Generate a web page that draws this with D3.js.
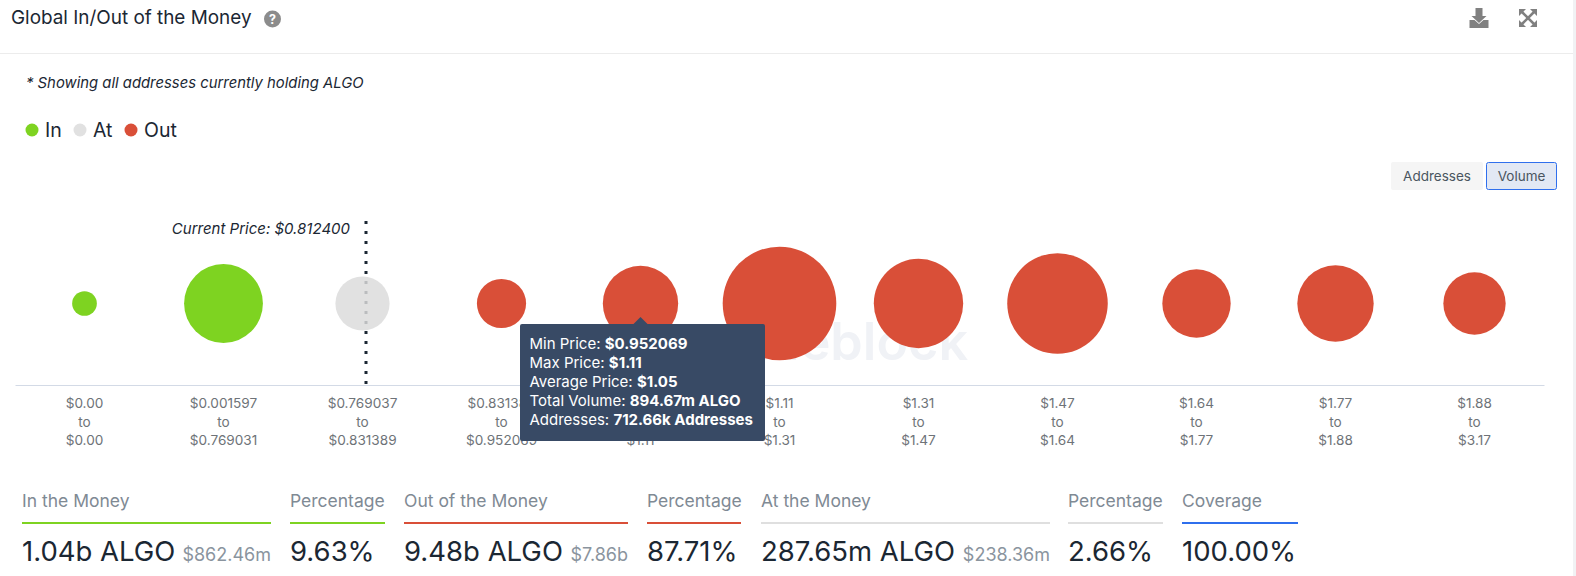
<!DOCTYPE html>
<html>
<head>
<meta charset="utf-8">
<script src="https://cdn.jsdelivr.net/npm/d3@7"></script>
<style>
  html, body { margin: 0; padding: 0; background: #fff; overflow: hidden; }
  text { font-family: Inter, "Noto Sans", sans-serif; }
</style>
</head>
<body>
<div id="chart"></div>
<script>
// Chart data
const minPrices = ["$0.00", "$0.001597", "$0.769037", "$0.831389", "$0.952069", "$1.11", "$1.31", "$1.47", "$1.64", "$1.77", "$1.88"];
const maxPrices = ["$0.00", "$0.769031", "$0.831389", "$0.952069", "$1.11", "$1.31", "$1.47", "$1.64", "$1.77", "$1.88", "$3.17"];
const volumes = [0.5, 1030, 287.65, 196, 894.67, 2970, 1504, 2110, 655, 933, 478]; // millions of ALGO
const statuses = ["In", "In", "At", "Out", "Out", "Out", "Out", "Out", "Out", "Out", "Out"];
const legendLabels = ["In", "At", "Out"];
const legendColors = ["#7ed321", "#e1e1e1", "#d94f38"];
const tooltipLabels = ["Min Price: ", "Max Price: ", "Average Price: ", "Total Volume: ", "Addresses: "];
const tooltipValues = ["$0.952069", "$1.11", "$1.05", "894.67m ALGO", "712.66k Addresses"];
const statTitles = ["In the Money", "Percentage", "Out of the Money", "Percentage", "At the Money", "Percentage", "Coverage"];
const statValues = ["1.04b ALGO", "9.63%", "9.48b ALGO", "87.71%", "287.65m ALGO", "2.66%", "100.00%"];
const statUsd = ["$862.46m", "", "$7.86b", "", "$238.36m", "", ""];
const statColors = ["#7ed321", "#7ed321", "#d94f38", "#d94f38", "#dfdfdf", "#dfdfdf", "#2f6fed"];
const statLeft = [22, 290, 404, 647, 761, 1068, 1182];
const statRight = [271, 385, 628, 741, 1050, 1163, 1298];

const width = 1576;
const height = 576;

const svg = d3.select("#chart")
  .append("svg")
    .attr("width", width)
    .attr("height", height)
    .attr("viewBox", `0, 0, ${width}, ${height}`);

/****************/
/*    Header    */
/****************/
svg.append("text")
  .attr("x", 11).attr("y", 24)
  .attr("font-size", 18.9).attr("fill", "#1b2733")
  .text("Global In/Out of the Money");

// Help icon
svg.append("circle").attr("cx", 272.5).attr("cy", 19).attr("r", 8.5).attr("fill", "#8c8c8c");
svg.append("text")
  .attr("x", 272.5).attr("y", 23.5).attr("text-anchor", "middle")
  .attr("font-size", 12.5).attr("font-weight", 700).attr("fill", "#fff")
  .text("?");

// Download icon
svg.append("path")
  .attr("fill", "#808080")
  .attr("d", "M1475.5 8h7v8h4l-7.5 7-7.5-7h4z M1469.5 20h5l4.5 4 4.5-4h5v8h-19z");

// Expand icon
svg.append("path")
  .attr("fill", "none").attr("stroke", "#808080").attr("stroke-width", 2.5)
  .attr("d", "M1522 12l12 12 M1534 12l-12 12");
svg.append("path")
  .attr("fill", "#808080")
  .attr("d", "M1519 9h7l-7 7z M1537 9v7l-7-7z M1519 27v-7l7 7z M1537 27h-7l7-7z");

svg.append("line")
  .attr("x1", 0).attr("x2", 1573).attr("y1", 53.5).attr("y2", 53.5)
  .attr("stroke", "#ececec");
svg.append("rect")
  .attr("x", 1573).attr("y", 0).attr("width", 3).attr("height", height)
  .attr("fill", "#f1f2f4");

svg.append("text")
  .attr("x", 26).attr("y", 88)
  .attr("font-size", 14.85).attr("font-style", "italic").attr("fill", "#1b2733")
  .text("* Showing all addresses currently holding ALGO");

/****************/
/*    Legend    */
/****************/
const legendDotX = [32, 80, 131];
legendLabels.forEach((label, i) => {
  svg.append("circle")
    .attr("cx", legendDotX[i]).attr("cy", 130).attr("r", 6.5)
    .attr("fill", legendColors[i]);
  svg.append("text")
    .attr("x", legendDotX[i] + 13).attr("y", 137)
    .attr("font-size", 19.5).attr("fill", "#1b2733")
    .text(label);
});

/*****************/
/*    Buttons    */
/*****************/
svg.append("rect")
  .attr("x", 1391).attr("y", 162).attr("width", 92).attr("height", 28).attr("rx", 2)
  .attr("fill", "#f5f5f5");
svg.append("text")
  .attr("x", 1437).attr("y", 180.5).attr("text-anchor", "middle")
  .attr("font-size", 13.5).attr("fill", "#4a5560")
  .text("Addresses");
svg.append("rect")
  .attr("x", 1486.5).attr("y", 162.5).attr("width", 70).attr("height", 27).attr("rx", 2)
  .attr("fill", "#e2e8f4").attr("stroke", "#2f6fed");
svg.append("text")
  .attr("x", 1521.5).attr("y", 180.5).attr("text-anchor", "middle")
  .attr("font-size", 13.5).attr("fill", "#4a5560")
  .text("Volume");

/**********************/
/*    Scales, axis    */
/**********************/
const xScale = d3.scaleBand()
  .domain(d3.range(volumes.length))
  .range([15, 1544]);

const rScale = d3.scalePow()
  .exponent(0.457)
  .domain([0, d3.max(volumes)])
  .range([11.5, 56.8]);

const colorScale = d3.scaleOrdinal()
  .domain(legendLabels)
  .range(["#7ed321", "#dbdbdb", "#d94f38"]);

const bubbleY = 303.5;
const baseline = 385;

// Watermark
svg.append("text")
  .attr("x", 968).attr("y", 360).attr("text-anchor", "end")
  .attr("font-size", 52).attr("font-weight", 600).attr("fill", "#f0f2f6")
  .text("intotheblock");

// Current price marker, the grey bubble sits over it
svg.append("line")
  .attr("x1", 366).attr("x2", 366).attr("y1", 221).attr("y2", baseline)
  .attr("stroke", "#1b2733").attr("stroke-width", 3)
  .attr("stroke-dasharray", "3 7");
svg.append("text")
  .attr("x", 350).attr("y", 234).attr("text-anchor", "end")
  .attr("font-size", 15).attr("font-style", "italic").attr("fill", "#1b2733")
  .text("Current Price: $0.812400");

/*****************/
/*    Bubbles    */
/*****************/
svg.selectAll(".bubble")
  .data(volumes)
  .join("circle")
    .attr("class", "bubble")
    .attr("cx", (d, i) => xScale(i) + xScale.bandwidth() / 2)
    .attr("cy", bubbleY)
    .attr("r", d => rScale(d))
    .attr("fill", (d, i) => colorScale(statuses[i]))
    .attr("fill-opacity", (d, i) => statuses[i] === "At" ? 0.83 : 1);

// Bottom axis with three line labels
const bottomAxis = d3.axisBottom(xScale)
  .tickSize(0)
  .tickFormat(() => "");
const axis = svg.append("g")
  .attr("class", "axis-x")
  .attr("transform", `translate(0, ${baseline})`)
  .call(bottomAxis);
axis.select(".domain").attr("stroke", "#d3dae6");
axis.selectAll(".tick text")
  .attr("y", 0).attr("dy", 0)
  .attr("font-size", 13.6).attr("fill", "#6e7378")
  .style("font-family", "Inter")
  .each(function(d) {
    const label = d3.select(this);
    [minPrices[d], "to", maxPrices[d]].forEach((line, j) => {
      label.append("tspan")
        .attr("x", 0)
        .attr("y", 23 + j * 18.5)
        .text(line);
    });
  });

/*****************/
/*    Tooltip    */
/*****************/
const tooltipX = xScale(4) + xScale.bandwidth() / 2;
svg.append("path")
  .attr("d", `M${tooltipX - 8} 325l8-8 8 8z`)
  .attr("fill", "#384a65");
svg.append("rect")
  .attr("x", 520).attr("y", 324).attr("width", 245).attr("height", 117).attr("rx", 2)
  .attr("fill", "#384a65");
tooltipLabels.forEach((label, i) => {
  const line = svg.append("text")
    .attr("x", 529.5).attr("y", 348.7 + i * 19.1)
    .attr("font-size", 15).attr("fill", "#fff");
  line.append("tspan").text(label);
  line.append("tspan").attr("font-weight", 700).text(tooltipValues[i]);
});

/***************/
/*    Stats    */
/***************/
statTitles.forEach((title, i) => {
  svg.append("text")
    .attr("x", statLeft[i]).attr("y", 507)
    .attr("font-size", 17.5).attr("fill", "#7f8a94")
    .text(title);
  svg.append("rect")
    .attr("x", statLeft[i]).attr("y", 522)
    .attr("width", statRight[i] - statLeft[i]).attr("height", 2)
    .attr("fill", statColors[i]);
  svg.append("text")
    .attr("x", statLeft[i]).attr("y", 560.5)
    .attr("font-size", 27.5).attr("fill", "#1b2733")
    .text(statValues[i]);
  if (statUsd[i]) {
    svg.append("text")
      .attr("x", statRight[i]).attr("y", 560.5).attr("text-anchor", "end")
      .attr("font-size", 18).attr("fill", "#8a949e")
      .text(statUsd[i]);
  }
});
</script>
</body>
</html>
